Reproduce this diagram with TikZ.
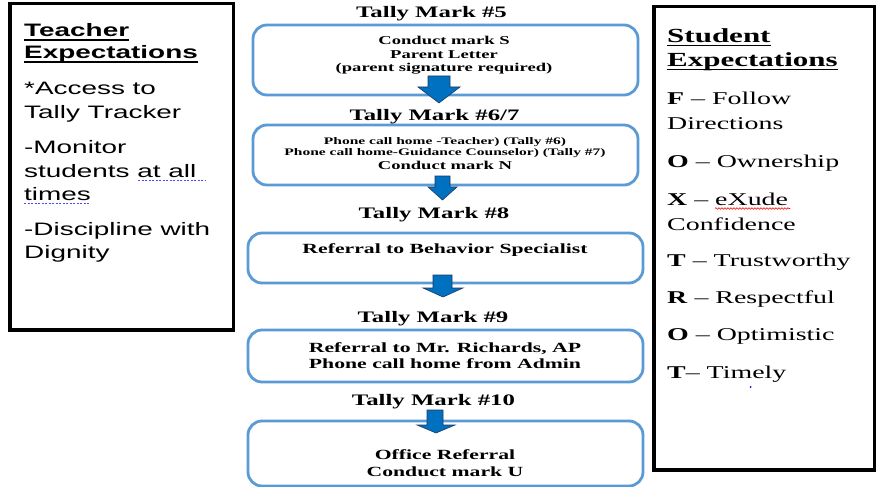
\documentclass[tikz,border=0pt]{standalone}
\usepackage{fontspec}
\usetikzlibrary{decorations.pathmorphing}
\newfontfamily\arialw[FakeStretch=1.55]{Liberation Sans}
\newfontfamily\timesw[FakeStretch=1.55]{Liberation Serif}
\definecolor{boxblue}{HTML}{5B9BD5}
\definecolor{arrowblue}{HTML}{0070C0}
\definecolor{arrowedge}{HTML}{1F3864}
\newcommand\barrow[8]{\draw[blockarrow] (#1,#5) -- (#2,#5) -- (#2,#6) -- (#4,#6) -- (#8,#7) -- (#3,#6) -- (#1,#6) -- cycle;}
\newcommand\ulnode[1]{\draw[line width=1.3pt] ([yshift=-3pt]#1.base west) -- ([yshift=-3pt]#1.base east);}
\tikzset{
  sidebox/.style={draw=black, line width=3.2pt, inner sep=0pt},
  stepbox/.style={draw=boxblue, line width=2.8pt, rounded corners=14pt, fill=white, inner sep=0pt},
  hd/.style={anchor=base, inner sep=0pt, font=\timesw\bfseries\fontsize{16}{19}\selectfont},
  bt/.style={anchor=base, inner sep=0pt, font=\timesw\bfseries\fontsize{12}{14}\selectfont},
  bts/.style={anchor=base, inner sep=0pt, font=\timesw\bfseries\fontsize{10}{12}\selectfont},
  btl/.style={anchor=base, inner sep=0pt, font=\timesw\bfseries\fontsize{14}{16}\selectfont},
  lt/.style={anchor=base west, inner sep=0pt, font=\arialw\fontsize{18}{22}\selectfont},
  rt/.style={anchor=base west, inner sep=0pt, font=\timesw\fontsize{18}{22}\selectfont},
  rtt/.style={anchor=base west, inner sep=0pt, font=\timesw\bfseries\fontsize{20}{24}\selectfont},
  blockarrow/.style={fill=arrowblue, draw=arrowedge, line width=0.6pt},
}
\begin{document}
\begin{tikzpicture}[x=1pt,y=-1pt]
\useasboundingbox (0,0) rectangle (876,487);
\fill[white] (0,0) rectangle (876,487);

% side boxes
\node[sidebox, minimum width=223.5pt, minimum height=326.5pt] (tbox) at (121.75,166.75) {};
\node[sidebox, minimum width=221pt, minimum height=463.5pt] (sbox) at (764.5,238.25) {};

% left texts
\node[lt, font=\arialw\bfseries\fontsize{18}{22}\selectfont] (t1) at (24,37) {Teacher};
\node[lt, font=\arialw\bfseries\fontsize{18}{22}\selectfont] (t2) at (24,59) {Expectations};
\ulnode{t1}
\ulnode{t2}
\node[lt] (t3) at (24,95) {*Access to};
\node[lt] (t4) at (24,118) {Tally Tracker};
\node[lt] (t5) at (24,153) {-Monitor};
\node[lt] (t6) at (24,177) {students at all};
\node[lt] (t7) at (24,200) {times};
\node[lt] (t8) at (24,235) {-Discipline with};
\node[lt] (t9) at (24,258) {Dignity};
\draw[blue!70, line width=0.8pt, dash pattern=on 2pt off 1.5pt] (138,180.5) -- (205,180.5);
\draw[blue!70, line width=0.8pt, dash pattern=on 2pt off 1.5pt] (24,203.5) -- (90,203.5);

% right texts
\node[rtt] (s1) at (667,42.5) {Student};
\node[rtt] (s2) at (667,66.5) {Expectations};
\ulnode{s1}
\ulnode{s2}
\node[rt] (s3) at (667,105) {\textbf{F} – Follow};
\node[rt] (s4) at (667,129) {Directions};
\node[rt] (s5) at (667,167) {\textbf{O} – Ownership};
\node[rt] (s6) at (667,205) {\textbf{X} – eXude};
\node[rt] (s7) at (667,230) {Confidence};
\node[rt] (s8) at (667,266) {\textbf{T} – Trustworthy};
\node[rt] (s9) at (667,303) {\textbf{R} – Respectful};
\node[rt] (s10) at (667,340) {\textbf{O} – Optimistic};
\node[rt] (s11) at (667,378) {\textbf{T}– Timely};
\draw[red, line width=0.6pt, decorate, decoration={snake, amplitude=0.8pt, segment length=3pt}] (715,208.5) -- (790,208.5);
\fill[blue] (750.5,387) circle (1pt);

% step boxes
\node[stepbox, minimum width=385pt, minimum height=70pt] (b1) at (445.5,60) {};
\node[stepbox, minimum width=385pt, minimum height=60pt] (b2) at (445.5,155) {};
\node[stepbox, minimum width=395pt, minimum height=50pt] (b3) at (445.5,258) {};
\node[stepbox, minimum width=395pt, minimum height=52pt] (b4) at (445.5,356) {};
\node[stepbox, minimum width=395pt, minimum height=65pt] (b5) at (445.5,453.5) {};

% headings
\node[hd] (h1) at (431.5,17.5) {Tally Mark \#5};
\node[hd] (h2) at (434.5,121) {Tally Mark \#6/7};
\node[hd] (h3) at (434,218) {Tally Mark \#8};
\node[hd] (h4) at (433,322) {Tally Mark \#9};
\node[hd] (h5) at (433.5,405) {Tally Mark \#10};

% box texts
\node[bt] (b1a) at (444,45) {Conduct mark S};
\node[bt] (b1b) at (444,58.5) {Parent Letter};
\node[bt] (b1c) at (444,72) {(parent signature required)};
\node[bts] (b2a) at (445,144.5) {Phone call home -Teacher) (Tally \#6)};
\node[bts] (b2b) at (445,155.5) {Phone call home-Guidance Counselor) (Tally \#7)};
\node[bt] (b2c) at (445,169.5) {Conduct mark N};
\node[btl] (b3a) at (445,253) {Referral to Behavior Specialist};
\node[btl] (b4a) at (445,352) {Referral to Mr. Richards, AP};
\node[btl] (b4b) at (445,368) {Phone call home from Admin};
\node[btl] (b5a) at (445,459) {Office Referral};
\node[btl] (b5b) at (445,476) {Conduct mark U};

% block arrows
\barrow{428}{450}{418}{460}{76}{87}{103}{439}
\barrow{435}{450}{428}{457}{176}{187}{200}{442.5}
\barrow{433}{452}{423}{463}{275}{288}{297}{443}
\barrow{427}{443}{417}{455}{410}{425}{433}{436}
\end{tikzpicture}
\end{document}
